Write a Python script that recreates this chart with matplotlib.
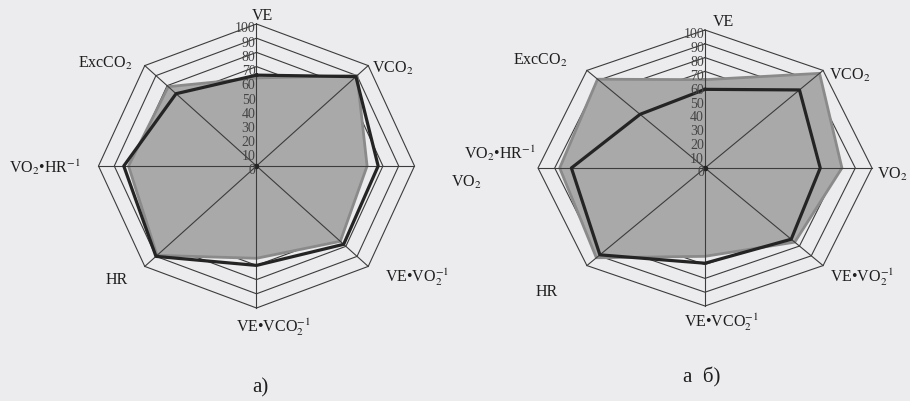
import matplotlib.pyplot as plt
import numpy as np
from matplotlib.transforms import ScaledTranslation

plt.rcParams["font.family"] = ["Liberation Serif", "DejaVu Serif"]
plt.rcParams["mathtext.fontset"] = "stix"

# axes of the radar, clockwise from the top
categories = ["VE", "VCO$_2$", "VO$_2$", "VE•VO$_2^{-1}$", "VE•VCO$_2^{-1}$",
              "HR", "VO$_2$•HR$^{-1}$", "ExcCO$_2$"]
ticks = [0, 10, 20, 30, 40, 50, 60, 70, 80, 90, 100]

# chart a)
a_gray = [62, 90, 70, 75, 65, 89, 81, 79]
a_black = [64, 89, 77, 78, 70, 90, 84, 72]
# chart б)
b_gray = [64, 97, 82, 76, 64, 92, 87, 91]
b_black = [57, 80, 69, 73, 69, 89, 80, 55]

W, H = 910, 401
BG = "#ececee"
FILL = "#a9a9a9"
EDGE = "#8a8a8a"
DARK = "#242424"
GRID = "#3c3c3c"

fig = plt.figure(figsize=(W / 100, H / 100), dpi=100, facecolor=BG)


def closed(a):
    return np.append(a, a[0])


def radar(cx, cy, rx, ry, gray, black):
    # one axes over the whole figure, scaled so 100 units = rx / ry pixels
    ax = fig.add_axes([0, 0, 1, 1])
    ax.set_xlim(-cx / rx * 100, (W - cx) / rx * 100)
    ax.set_ylim(-(H - cy) / ry * 100, cy / ry * 100)
    ax.axis("off")
    ax.patch.set_alpha(0)

    ang = np.pi / 2 - np.arange(len(categories)) * np.pi / 4
    ux, uy = np.cos(ang), np.sin(ang)

    for t in ticks[1:]:
        ax.plot(closed(ux) * t, closed(uy) * t, color=GRID, lw=0.8, zorder=1)

    g = np.array(gray, dtype=float)
    ax.fill(ux * g, uy * g, color=FILL, lw=0, zorder=2)
    ax.plot(closed(ux * g), closed(uy * g), color=EDGE, lw=2.0, zorder=3)

    for x, y in zip(ux, uy):
        ax.plot([0, 100 * x], [0, 100 * y], color=GRID, lw=0.8, zorder=4)
    ax.plot(0, 0, "o", ms=3, color=DARK, zorder=4)

    b = np.array(black, dtype=float)
    ax.plot(closed(ux * b), closed(uy * b), color=DARK, lw=2.3, zorder=5)

    off = ScaledTranslation(-1 / 100, -5 / 100, fig.dpi_scale_trans)
    for t in ticks:
        ax.text(0, t, str(t), ha="right", va="center", fontsize=10,
                color="#444444", transform=ax.transData + off, zorder=6)
    return ax


radar(256.5, 166, 158, 142, a_gray, a_black)
radar(705, 168, 167, 138, b_gray, b_black)

# label positions in pixels (same order as categories)
pos_a = [(262, 16), (393, 68), (466, 182), (417, 277), (274, 327),
         (117, 280), (45, 167), (105, 63)]
pos_b = [(723, 22), (850, 75), (892, 174), (862, 277), (722, 322),
         (547, 292), (500, 153), (540, 60)]

for pos in (pos_a, pos_b):
    for (px, py), name in zip(pos, categories):
        fig.text(px / W, 1 - py / H, name, ha="center", va="center",
                 fontsize=11.5, color="#1e1e1e")

fig.text(260 / W, 1 - 388 / H, "a)", ha="center", va="center", fontsize=15, color="#1e1e1e")
fig.text(702 / W, 1 - 377 / H, "a  б)", ha="center", va="center", fontsize=15, color="#1e1e1e")

fig.savefig("out.png", dpi=100, facecolor=BG)
